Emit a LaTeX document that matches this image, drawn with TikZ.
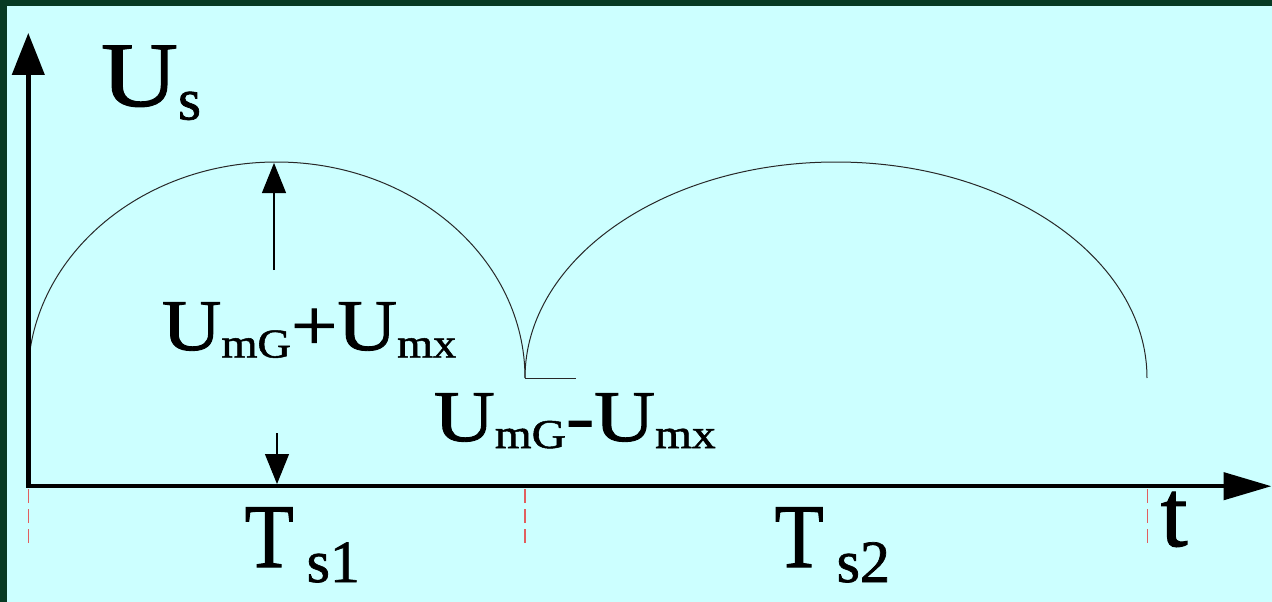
\documentclass[tikz,border=0pt]{standalone}
\usepackage{fontspec}
\usepackage{graphicx}
\newfontfamily\libser{Liberation Serif}[FakeBold=1.2]
\usetikzlibrary{arrows.meta}
\definecolor{bordergreen}{RGB}{7,58,35}
\definecolor{bgcyan}{RGB}{204,255,255}
\definecolor{curvegray}{RGB}{40,40,40}
\definecolor{tickred}{RGB}{225,95,95}
\tikzset{
  axisline/.style={line width=4.5pt, line join=miter, black},
  curve/.style={line width=1pt, curvegray},
  dimarrow/.style={line width=1.1pt, curvegray, -{Triangle[length=30pt,width=24pt]}, black},
  ticktick/.style={line width=1.3pt, tickred, dash pattern=on 14pt off 6pt},
  lbl/.style={anchor=base west, inner sep=0pt, outer sep=0pt, text=black, font=\libser}
}
\begin{document}
\begin{tikzpicture}[x=1pt,y=-1pt]
\useasboundingbox (0,0) rectangle (1272,602);
\fill[bordergreen] (0,0) rectangle (1272,602);
\fill[bgcyan] (7,6) rectangle (1272,602);
% key points
\coordinate (O) at (28.3,486.2);
\coordinate (ytip) at (28.3,33);
\coordinate (xtip) at (1271.5,486.2);
\coordinate (a1) at (28,378);
\coordinate (a2) at (525,378);
\coordinate (a3) at (1147,378);
\coordinate (stub) at (576,378);
\coordinate (upbase) at (274,270);
\coordinate (uptip) at (274,163);
\coordinate (dnbase) at (277,433);
\coordinate (dntip) at (277,484);
\coordinate (t1a) at (28.3,489);
\coordinate (t1b) at (28.3,545);
\coordinate (t2a) at (525,489);
\coordinate (t2b) at (525,545);
\coordinate (t3a) at (1147.5,489);
\coordinate (t3b) at (1147.5,545);
% curves
\draw[curve] (a1) arc[start angle=180, end angle=360, x radius=248.5, y radius=216];
\draw[curve] (a2) -- (stub);
\draw[curve] (a2) arc[start angle=180, end angle=360, x radius=311, y radius=216];
% dimension arrows
\draw[dimarrow] (upbase) -- (uptip);
\draw[dimarrow] (dnbase) -- (dntip);
% red dashed ticks
\draw[ticktick] (t1a) -- (t1b);
\draw[ticktick] (t2a) -- (t2b);
\draw[ticktick] (t3a) -- (t3b);
% axes
\draw[axisline, {Triangle[length=42pt,width=32pt]}-{Triangle[length=48pt,width=27pt]}] (ytip) -- (O) -- (xtip);
% labels
\node[lbl] (us) at (101,106) {\scalebox{1.16}[1]{\fontsize{92}{92}\selectfont U}\raisebox{-13.5pt}{\fontsize{59}{59}\selectfont s}};
\node[lbl] (plus) at (161.9,350) {\scalebox{1.13}[1]{\fontsize{73}{73}\selectfont U\raisebox{-7.5pt}{\fontsize{41}{41}\selectfont mG}+U\raisebox{-7.5pt}{\fontsize{41}{41}\selectfont mx}}};
\node[lbl] (minus) at (433.8,441) {\scalebox{1.157}[1]{\fontsize{73}{73}\selectfont U\raisebox{-7pt}{\fontsize{41}{41}\selectfont mG}-U\raisebox{-7pt}{\fontsize{41}{41}\selectfont mx}}};
\node[lbl] (ts1) at (244.7,567) {\scalebox{0.88}[1]{\fontsize{91}{91}\selectfont T}\hspace{13pt}\raisebox{-15pt}{\fontsize{60}{60}\selectfont s1}};
\node[lbl] (ts2) at (774.7,567) {\scalebox{0.88}[1]{\fontsize{91}{91}\selectfont T}\hspace{13pt}\raisebox{-15pt}{\fontsize{60}{60}\selectfont s2}};
\node[lbl] (tlab) at (1160.8,546) {\fontsize{96}{96}\selectfont t};
\end{tikzpicture}
\end{document}
